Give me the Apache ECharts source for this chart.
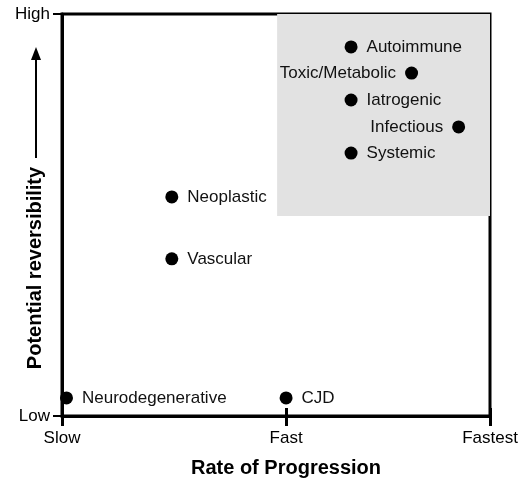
<!DOCTYPE html>
<html>
<head>
<meta charset="utf-8">
<title>Rate of progression vs reversibility</title>
<script src="https://cdn.jsdelivr.net/npm/echarts@6/dist/echarts.min.js"></script>
<style>
  html, body { margin: 0; padding: 0; background: #fff; }
  #chart { width: 529px; height: 481px; }
</style>
</head>
<body>
<div id="chart"></div>
<script>
// categories and values
const causes = ['Autoimmune', 'Toxic/Metabolic', 'Iatrogenic', 'Infectious', 'Systemic',
  'Neoplastic', 'Vascular', 'Neurodegenerative', 'CJD']
// rate of progression: Slow = 0, Fast = 1, Fastest = 1.91
const rate = [1.29, 1.56, 1.29, 1.77, 1.29, 0.49, 0.49, 0.02, 1.0]
// potential reversibility: Low = 0, High = 100
const reversibility = [91.8, 85.3, 78.6, 71.9, 65.4, 54.5, 39.1, 4.5, 4.5]

const rateTicks = [0, 1, 1.91]
const rateTickLabels = ['Slow', 'Fast', 'Fastest']
const reversibilityTicks = [0, 100]
const reversibilityTickLabels = ['Low', 'High']

// shaded block: fast and potentially reversible
const shadedRate = [0.96, 1.91]
const shadedReversibility = [49.75, 100]

const font = 'Liberation Sans, Arial, sans-serif'
const leftLabelled = ['Toxic/Metabolic', 'Infectious']

const chart = echarts.init(document.getElementById('chart'))

function rateLabel(v) {
  const i = rateTicks.findIndex(t => Math.abs(t - v) < 0.001)
  return i < 0 ? '' : rateTickLabels[i]
}

const xBase = {
  type: 'value',
  min: rateTicks[0],
  max: rateTicks[2],
  interval: 1,
  splitLine: { show: false }
}

chart.setOption({
  animation: false,
  textStyle: { fontFamily: font },
  grid: {
    left: 62,
    right: 39,
    top: 14,
    bottom: 65,
    outerBoundsMode: 'none',
    containLabel: false,
    show: true,
    borderColor: '#000',
    borderWidth: 3
  },
  graphic: [{
    type: 'group',
    children: [{
      type: 'line',
      shape: { x1: 36, y1: 158, x2: 36, y2: 56 },
      style: { stroke: '#000', lineWidth: 2 }
    }, {
      type: 'polygon',
      shape: { points: [[36, 47], [31, 60], [41, 60]] },
      style: { fill: '#000' }
    }]
  }],
  xAxis: [Object.assign({}, xBase, {
    position: 'bottom',
    name: 'Rate of Progression',
    nameLocation: 'middle',
    nameGap: 42,
    nameMoveOverlap: false,
    nameTextStyle: { fontSize: 20, fontWeight: 'bold', color: '#000', padding: [0, 0, 0, 20] },
    axisLine: { lineStyle: { color: '#000', width: 3 } },
    axisTick: { length: 10, lineStyle: { color: '#000', width: 3 } },
    axisLabel: {
      margin: 14,
      fontSize: 17,
      color: '#000',
      showMaxLabel: true,
      formatter: rateLabel
    }
  }), Object.assign({}, xBase, {
    position: 'bottom',
    axisLine: { show: false },
    axisLabel: { show: false },
    axisTick: { inside: true, length: 8, lineStyle: { color: '#000', width: 3 } }
  })],
  yAxis: {
    type: 'value',
    min: reversibilityTicks[0],
    max: reversibilityTicks[1],
    interval: 100,
    splitLine: { show: false },
    name: 'Potential reversibility',
    nameLocation: 'middle',
    nameGap: 17,
    nameMoveOverlap: false,
    nameTextStyle: { fontSize: 20, fontWeight: 'bold', color: '#000', padding: [0, 106, 0, 0] },
    axisLine: { lineStyle: { color: '#000', width: 3 } },
    axisTick: { length: 9, lineStyle: { color: '#000', width: 2 } },
    axisLabel: {
      margin: 12,
      fontSize: 17,
      color: '#000',
      formatter: v => reversibilityTickLabels[reversibilityTicks.indexOf(v)] || ''
    }
  },
  series: [{
    type: 'scatter',
    symbolSize: 13,
    itemStyle: { color: '#000', opacity: 1 },
    label: {
      show: true,
      fontSize: 17,
      color: '#111',
      distance: 9,
      formatter: p => p.data.name
    },
    data: causes.map((name, i) => ({
      name: name,
      value: [rate[i], reversibility[i]],
      label: { position: leftLabelled.includes(name) ? 'left' : 'right' }
    })),
    markArea: {
      silent: true,
      itemStyle: { color: '#e2e2e2' },
      data: [[
        { coord: [shadedRate[0], shadedReversibility[0]] },
        { coord: [shadedRate[1], shadedReversibility[1]] }
      ]]
    },
    z: 3
  }]
})
</script>
</body>
</html>
